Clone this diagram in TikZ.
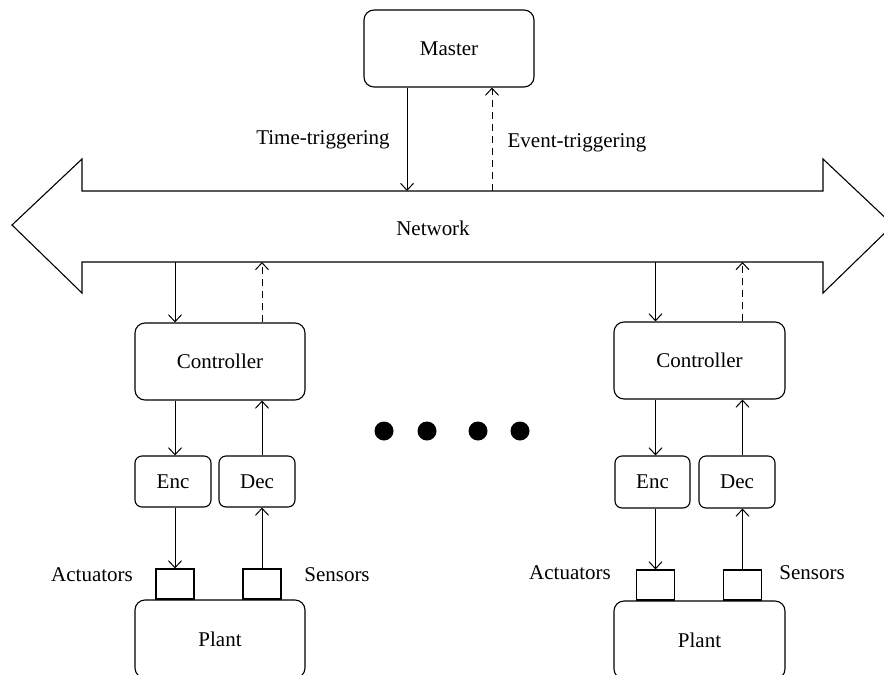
\documentclass[tikz,border=0pt]{standalone}
\usepackage{fontspec}
\setmainfont{Liberation Serif}
\usetikzlibrary{arrows.meta}
\tikzset{
  box/.style={draw, line width=1.1pt, rounded corners=10pt, inner sep=0pt, font=\fontsize{21}{25}\selectfont},
  smallbox/.style={draw, line width=1.1pt, rounded corners=7pt, inner sep=0pt, font=\fontsize{21}{25}\selectfont},
  port/.style={draw, line width=1.1pt, inner sep=0pt, minimum width=38pt, minimum height=30pt},
  lbl/.style={inner sep=0pt, font=\fontsize{21}{25}\selectfont},
  conn/.style={line width=1pt, -{Straight Barb[length=7pt,width=13pt]}},
  dconn/.style={conn, dash pattern=on 7pt off 5pt},
  dot/.style={circle, fill=black, minimum size=19pt, inner sep=0pt}
}
\begin{document}
\begin{tikzpicture}[x=1pt,y=-1pt]
\useasboundingbox (0,0) rectangle (884,675);
% network double arrow
\draw[line width=1.1pt] (12,225) -- (82,159) -- (82,191) -- (823,191) -- (823,159) -- (893,225)
  -- (823,293) -- (823,262) -- (82,262) -- (82,293) -- cycle;
\coordinate (nt) at (0,191);
\coordinate (nb) at (0,262);
\node[lbl] (net) at (433,228) {Network};
% master
\node[box, minimum width=170pt, minimum height=77pt] (master) at (449,48.5) {Master};
\coordinate (tx) at (407,0);
\coordinate (ex) at (492,0);
\draw[conn] (master.south -| tx) -- (nt -| tx);
\draw[dconn] (nt -| ex) -- (master.south -| ex);
\node[lbl] (tt) at (323,140) {Time-triggering};
\node[lbl] (et) at (577,143) {Event-triggering};
% left loop
\node[box, minimum width=170pt, minimum height=77pt] (ctrlL) at (220,361.5) {Controller};
\node[smallbox, minimum width=76pt, minimum height=51pt] (encL) at (173,481.5) {Enc};
\node[smallbox, minimum width=76pt, minimum height=51pt] (decL) at (257,481.5) {Dec};
\node[box, minimum width=170pt, minimum height=78pt] (plantL) at (220,639) {Plant};
\node[port] (actL) at (175,584) {};
\node[port] (senL) at (262,584) {};
\node[lbl] (actlblL) at (92,575) {Actuators};
\node[lbl] (senlblL) at (337,575) {Sensors};
\draw[conn] (nb -| actL) -- (ctrlL.north -| actL);
\draw[dconn] (ctrlL.north -| senL) -- (nb -| senL);
\draw[conn] (ctrlL.south -| actL) -- (encL.north -| actL);
\draw[conn] (decL.north -| senL) -- (ctrlL.south -| senL);
\draw[conn] (encL.south -| actL) -- (actL.north);
\draw[conn] (senL.north) -- (decL.south -| senL);
% right loop
\node[box, minimum width=171pt, minimum height=77pt] (ctrlR) at (699.5,360.5) {Controller};
\node[smallbox, minimum width=75pt, minimum height=52pt] (encR) at (652.5,482) {Enc};
\node[smallbox, minimum width=76pt, minimum height=52pt] (decR) at (737,482) {Dec};
\node[box, minimum width=171pt, minimum height=78pt] (plantR) at (699.5,640) {Plant};
\node[port] (actR) at (655.5,585) {};
\node[port] (senR) at (742.5,585) {};
\node[lbl] (actlblR) at (570,573) {Actuators};
\node[lbl] (senlblR) at (812,573) {Sensors};
\draw[conn] (nb -| actR) -- (ctrlR.north -| actR);
\draw[dconn] (ctrlR.north -| senR) -- (nb -| senR);
\draw[conn] (ctrlR.south -| actR) -- (encR.north -| actR);
\draw[conn] (decR.north -| senR) -- (ctrlR.south -| senR);
\draw[conn] (encR.south -| actR) -- (actR.north);
\draw[conn] (senR.north) -- (decR.south -| senR);
% dots
\node[dot] (d1) at (384,431) {};
\node[dot] (d2) at (427,431) {};
\node[dot] (d3) at (478,431) {};
\node[dot] (d4) at (520,431) {};
\end{tikzpicture}
\end{document}
